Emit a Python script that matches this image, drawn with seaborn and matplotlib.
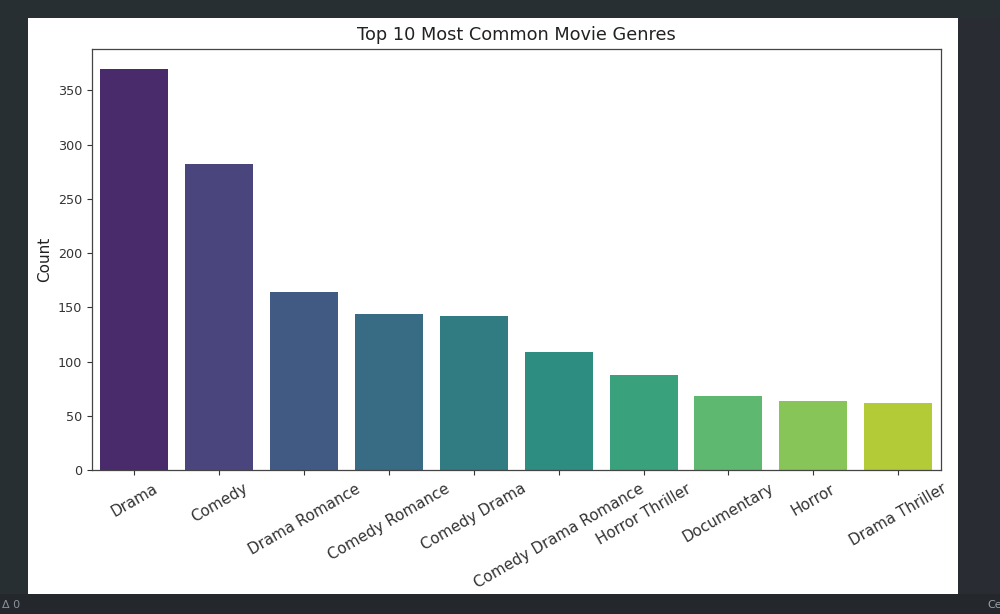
import matplotlib
matplotlib.use("Agg")
import matplotlib.pyplot as plt
from matplotlib.patches import Rectangle
import seaborn as sns
import pandas as pd

genres = ["Drama", "Comedy", "Drama Romance", "Comedy Romance", "Comedy Drama",
          "Comedy Drama Romance", "Horror Thriller", "Documentary", "Horror", "Drama Thriller"]
counts = [370, 282, 164, 144, 142, 109, 88, 68, 64, 62]
title = "Top 10 Most Common Movie Genres"
ylabel = "Count"

W, H = 1000, 614
fig = plt.figure(figsize=(W / 100, H / 100), dpi=100, facecolor="#282f33")

def box(x0, y0, x1, y1, color, z):
    fig.add_artist(Rectangle((x0 / W, 1 - y1 / H), (x1 - x0) / W, (y1 - y0) / H,
                             transform=fig.transFigure, facecolor=color,
                             edgecolor="none", zorder=z))

box(0, 594, 1000, 614, "#24272c", -3)
box(958, 18, 1000, 594, "#2a2c33", -3)
box(28, 18, 958, 594, "#ffffff", -2)

ax = fig.add_axes([91.7 / W, 1 - 470 / H, 849 / W, 421.5 / H])
df = pd.DataFrame({"genre": genres, "count": counts})
sns.barplot(data=df, x="genre", y="count", hue="genre", palette="viridis",
            saturation=0.78, legend=False, ax=ax)
ax.set_xlim(-0.5, 9.5)
ax.set_ylim(0, 388.5)
ax.set_title(title, fontsize=12.8, pad=6, color="#222222")
ax.set_xlabel("")
ax.set_ylabel(ylabel, fontsize=11, color="#222222", labelpad=4)
ax.tick_params(axis="x", labelsize=10.9, labelrotation=30, colors="#333333", pad=4.5)
ax.tick_params(axis="y", labelsize=9.2, colors="#333333")
for s in ax.spines.values():
    s.set_color("#444444")
    s.set_linewidth(0.9)

fig.text(2 / W, 1 - 605 / H, "\u0394 0", color="#8a9299", fontsize=8, va="center")
fig.text(987 / W, 1 - 605 / H, "Ce", color="#9aa4ad", fontsize=8, va="center")
fig.savefig("out.png", dpi=100, facecolor=fig.get_facecolor())
